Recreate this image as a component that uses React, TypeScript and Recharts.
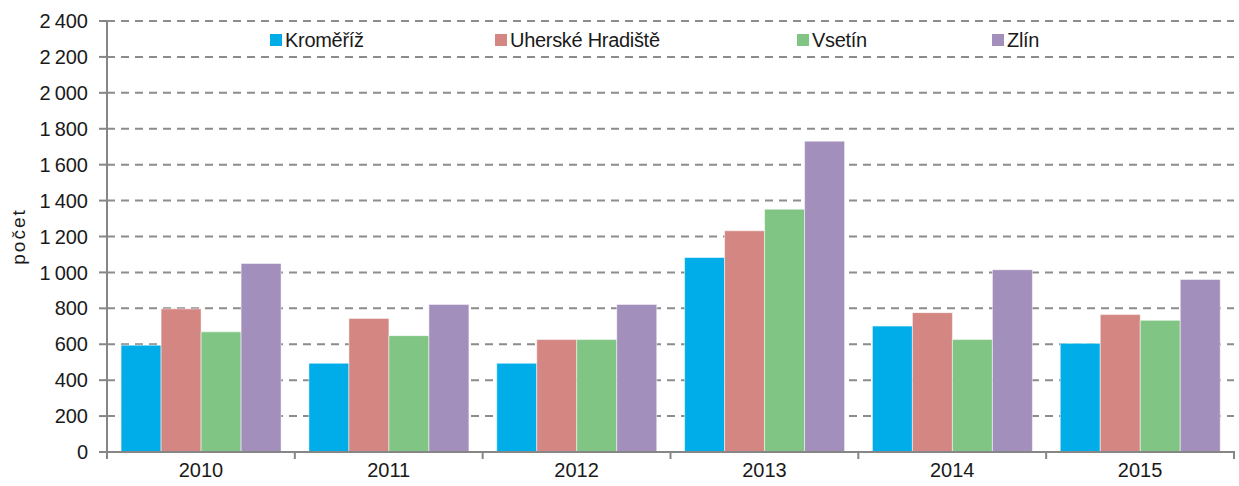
import { BarChart, Bar, XAxis, YAxis, CartesianGrid, Label } from "recharts";

const years = ["2010", "2011", "2012", "2013", "2014", "2015"];
const kromeriz = [595, 494, 494, 1083, 701, 605];
const uherskeHradiste = [797, 744, 626, 1232, 776, 765];
const vsetin = [669, 648, 626, 1352, 626, 733];
const zlin = [1050, 822, 822, 1731, 1015, 961];
const yTicks = [0, 200, 400, 600, 800, 1000, 1200, 1400, 1600, 1800, 2000, 2200, 2400];

const series = [
  { key: "kromeriz", name: "Kroměříž", color: "#00ADE8" },
  { key: "uh", name: "Uherské Hradiště", color: "#D38682" },
  { key: "vsetin", name: "Vsetín", color: "#80C583" },
  { key: "zlin", name: "Zlín", color: "#A28FBB" },
];

const data = years.map((year, i) => ({
  year,
  kromeriz: kromeriz[i],
  uh: uherskeHradiste[i],
  vsetin: vsetin[i],
  zlin: zlin[i],
}));

const FONT = "'Liberation Sans', Arial, sans-serif";
const AXIS = "#868686";
const legendLeft = [270, 495, 797, 992];

const fmt = (v: number) =>
  v >= 1000 ? `${Math.floor(v / 1000)}\u2009${String(v % 1000).padStart(3, "0")}` : String(v);

// category tick: label in the middle, tick marks on the band edges
function YearTick(props: any) {
  const { x, y, payload, index } = props;
  const half = payload.offset || 0;
  return (
    <g>
      <line x1={x - half} x2={x - half} y1={y - 9} y2={y - 1} stroke={AXIS} strokeWidth={2} />
      {index === years.length - 1 && (
        <line x1={x + half} x2={x + half} y1={y - 9} y2={y - 1} stroke={AXIS} strokeWidth={2} />
      )}
      <text x={x} y={y + 17} textAnchor="middle" fill="#1a1a1a" fontSize={20} fontFamily={FONT}>
        {payload.value}
      </text>
    </g>
  );
}

function TopLegend() {
  return (
    <>
      {series.map((s, i) => (
        <div
          key={s.key}
          style={{
            position: "absolute",
            left: legendLeft[i],
            top: 28,
            display: "flex",
            alignItems: "center",
            fontFamily: FONT,
            fontSize: 20,
            lineHeight: "24px",
            color: "#1a1a1a",
            letterSpacing: -0.3,
          }}
        >
          <span style={{ width: 12, height: 12, background: s.color, marginRight: 3 }} />
          {s.name}
        </div>
      ))}
    </>
  );
}

export default function App() {
  return (
    <div style={{ position: "absolute", left: 0, top: 0, width: 1239, height: 486, background: "#fff" }}>
      <BarChart
        width={1239}
        height={486}
        data={data}
        margin={{ top: 21, right: 5, bottom: 0, left: 0 }}
        barCategoryGap="7.5%"
        barGap={0}
      >
        <CartesianGrid vertical={false} stroke="#8c8c8c" strokeWidth={2} strokeDasharray="8 6" />
        <XAxis
          dataKey="year"
          height={34}
          axisLine={{ stroke: AXIS, strokeWidth: 2 }}
          tickLine={false}
          tick={<YearTick />}
          interval={0}
        />
        <YAxis
          width={107}
          domain={[0, 2400]}
          ticks={yTicks}
          interval={0}
          tickFormatter={fmt}
          axisLine={{ stroke: AXIS, strokeWidth: 2 }}
          tickLine={{ stroke: AXIS, strokeWidth: 2 }}
          tickSize={8}
          tickMargin={11}
          tick={{ fill: "#1a1a1a", fontSize: 20, fontFamily: FONT }}
        >
          <Label
            content={(p: any) => {
              const vb = p.viewBox;
              const cy = vb.y + vb.height / 2;
              return (
                <text
                  x={18}
                  y={cy}
                  transform={`rotate(-90 18 ${cy})`}
                  textAnchor="middle"
                  dominantBaseline="central"
                  fontSize={19}
                  letterSpacing={2}
                  fontFamily={FONT}
                  fill="#1a1a1a"
                >
                  počet
                </text>
              );
            }}
          />
        </YAxis>
        {series.map((s) => (
          <Bar
            key={s.key}
            dataKey={s.key}
            name={s.name}
            fill={s.color}
            stroke="#ffffff"
            strokeOpacity={0.5}
            strokeWidth={1}
            isAnimationActive={false}
          />
        ))}
      </BarChart>
      <TopLegend />
    </div>
  );
}
